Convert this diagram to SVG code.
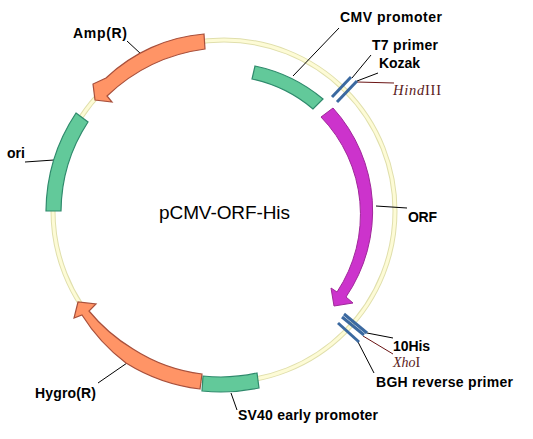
<svg xmlns="http://www.w3.org/2000/svg" width="533" height="439" viewBox="0 0 533 439">
<style>
.ring{fill:none;stroke:#e0dfac;stroke-width:5}
.ringi{fill:none;stroke:#fdfbd6;stroke-width:3}
.g{fill:#62c99a;stroke:#2f8a6c;stroke-width:1.2}
.o{fill:#ff9466;stroke:#a8503c;stroke-width:1.2}
.m{fill:#cc33cc;stroke:#a0289a;stroke-width:1}
.t{font-family:"Liberation Sans",Arial,sans-serif;font-size:14px;font-weight:bold;fill:#000}
.r{font-family:"Liberation Serif","Times New Roman",serif;font-size:14.5px;fill:#5a1a1a}
.l{stroke:#000;stroke-width:1;fill:none}
.lr{stroke:#6b1515;stroke-width:1;fill:none}
.b{stroke:#3b69a0;stroke-width:3;fill:none}
</style>
<rect width="533" height="439" fill="#fff"/>
<g id="plasmid-ring"><circle class="ring" cx="224" cy="211" r="171"/><circle class="ringi" cx="224" cy="211" r="171"/></g>
<g id="connectors">
<path class="l" d="M339 28L293 76"/>
<path class="l" d="M371 55L352 78"/>
<path class="l" d="M378 73L357 81"/>
<path class="lr" d="M357 82L394 83"/>
<path class="l" d="M376 206L407 208"/>
<path class="l" d="M367 333L393 338"/>
<path class="lr" d="M363 336L393 354"/>
<path class="l" d="M358 342L374 373"/>
<path class="l" d="M25 162L54 160"/>
<path class="l" d="M127 41L141 54"/>
<path class="l" d="M98 383L127 363"/>
<path class="l" d="M231 393L237 410"/>
</g>
<g id="cmv"><path class="g" d="M255 66A155 155 0 0 1 323 99L313 109A140 140 0 0 0 252 79Z"/></g>
<g id="t7"><path class="b" d="M332 97L351 77"/></g>
<g id="kozak"><path class="b" d="M337 102L357 81"/></g>
<g id="orf"><path class="m" d="M321 117L333 108A153 153 0 0 1 346 297L353 303L334 306L331 288L337 292A140 140 0 0 0 321 117Z"/></g>
<g id="his"><path class="b" d="M344 314L367 333"/><path class="b" d="M342 317L364 335"/></g>
<g id="bgh"><path class="b" d="M338 323L359 342"/></g>
<g id="sv40"><path class="g" d="M203 376Q230 379 257 373L259 388Q230 394 202 391Z"/></g>
<g id="hygro"><path class="o" d="M202 374L200 389A180 180 0 0 1 126 363A180 180 0 0 1 82 315L74 318L78 302L96 304L89 311A170 170 0 0 0 133 349A165 165 0 0 0 202 374Z"/></g>
<g id="ori"><path class="g" d="M76 113L88 122A165 165 0 0 0 61 211L46 211A180 180 0 0 1 76 113Z"/></g>
<g id="amp"><path class="o" d="M204 34L205 49A175 175 0 0 0 107 96L112 102L95 100L93 84L106 78A161 161 0 0 1 204 34Z"/></g>
<g id="labels">
<text class="t" x="340" y="22" textLength="102">CMV promoter</text>
<text class="t" x="372" y="50" textLength="66">T7 primer</text>
<text class="t" x="379" y="68" textLength="41">Kozak</text>
<text class="r" x="393" y="95" textLength="48"><tspan font-style="italic">Hind</tspan>III</text>
<text class="t" x="408" y="222" textLength="29">ORF</text>
<text class="t" x="393" y="351" textLength="37">10His</text>
<text class="r" x="393" y="367" style="font-size:14px"><tspan font-style="italic">Xho</tspan>I</text>
<text class="t" x="376" y="387" textLength="137">BGH reverse primer</text>
<text class="t" x="238" y="420" textLength="140">SV40 early promoter</text>
<text class="t" x="35" y="398" textLength="61">Hygro(R)</text>
<text class="t" x="7" y="158" textLength="18">ori</text>
<text class="t" x="73" y="38" textLength="54">Amp(R)</text>
<text x="159" y="219" textLength="131" font-family="'Liberation Sans',Arial,sans-serif" font-size="19" fill="#000">pCMV-ORF-His</text>
</g>
</svg>
